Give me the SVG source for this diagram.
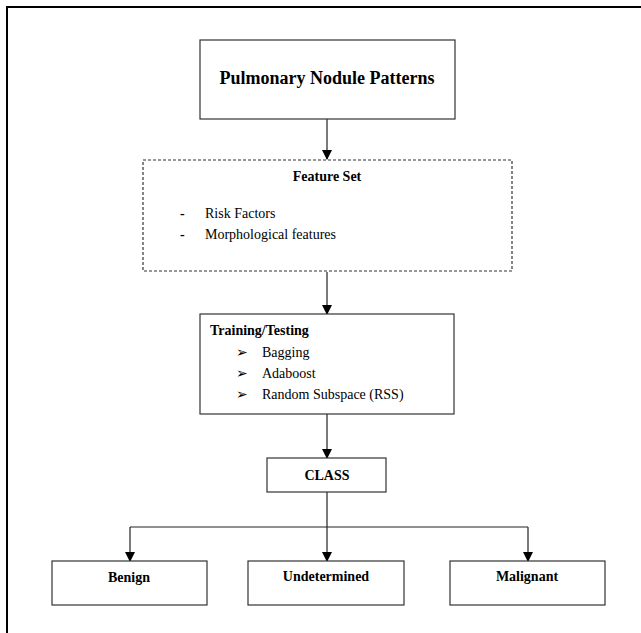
<svg xmlns="http://www.w3.org/2000/svg" width="641" height="633" viewBox="0 0 641 633">
<style>
.box{fill:#fff;stroke:#333;stroke-width:1.2}
.dash{fill:#fff;stroke:#333;stroke-width:1.2;stroke-dasharray:3,2}
.t{font-family:"Liberation Serif","Times New Roman",serif;fill:#000}
.b{font-weight:bold}
.c{stroke:#222;stroke-width:1.2;fill:none}
</style>
<defs>
<marker id="ah" markerWidth="10" markerHeight="10" refX="9" refY="5" orient="auto" markerUnits="userSpaceOnUse">
<path d="M0,0 L10,5 L0,10 Z" fill="#000"/>
</marker>
</defs>
<rect width="641" height="633" fill="#fff"/>
<path d="M7,633 V7 H641" stroke="#000" stroke-width="2" fill="none"/>
<g id="connectors">
<line class="c" x1="327" y1="119" x2="327" y2="159" marker-end="url(#ah)"/>
<line class="c" x1="327" y1="272" x2="327" y2="314" marker-end="url(#ah)"/>
<line class="c" x1="327" y1="414" x2="327" y2="458" marker-end="url(#ah)"/>
<line class="c" x1="327" y1="492" x2="327" y2="561" marker-end="url(#ah)"/>
<line class="c" x1="130" y1="527" x2="528" y2="527"/>
<line class="c" x1="130" y1="527" x2="130" y2="561" marker-end="url(#ah)"/>
<line class="c" x1="528" y1="527" x2="528" y2="561" marker-end="url(#ah)"/>
</g>
<g id="pulmonary">
<rect class="box" x="200" y="40" width="255" height="79"/>
<text class="t b" x="327" y="84" font-size="18" text-anchor="middle">Pulmonary Nodule Patterns</text>
</g>
<g id="featureset">
<rect class="dash" x="143" y="160" width="369" height="111"/>
<text class="t b" x="327" y="181" font-size="14" text-anchor="middle">Feature Set</text>
<text class="t b" x="180" y="218" font-size="14">-</text>
<text class="t" x="205" y="218" font-size="14">Risk Factors</text>
<text class="t b" x="180" y="239" font-size="14">-</text>
<text class="t" x="205" y="239" font-size="14">Morphological features</text>
</g>
<g id="training">
<rect class="box" x="200" y="314" width="254" height="100"/>
<text class="t b" x="210" y="335" font-size="14">Training/Testing</text>
<text class="t" x="236" y="357" font-size="14">➢</text>
<text class="t" x="262" y="357" font-size="14">Bagging</text>
<text class="t" x="236" y="378" font-size="14">➢</text>
<text class="t" x="262" y="378" font-size="14">Adaboost</text>
<text class="t" x="236" y="399" font-size="14">➢</text>
<text class="t" x="262" y="399" font-size="14">Random Subspace (RSS)</text>
</g>
<g id="class">
<rect class="box" x="267" y="458" width="119" height="34"/>
<text class="t b" x="327" y="480" font-size="14" text-anchor="middle">CLASS</text>
</g>
<g id="benign">
<rect class="box" x="52" y="561" width="155" height="44"/>
<text class="t b" x="129" y="582" font-size="14" text-anchor="middle">Benign</text>
</g>
<g id="undetermined">
<rect class="box" x="248" y="561" width="156" height="44"/>
<text class="t b" x="326" y="581" font-size="14" text-anchor="middle">Undetermined</text>
</g>
<g id="malignant">
<rect class="box" x="450" y="561" width="155" height="44"/>
<text class="t b" x="527" y="581" font-size="14" text-anchor="middle">Malignant</text>
</g>
</svg>
